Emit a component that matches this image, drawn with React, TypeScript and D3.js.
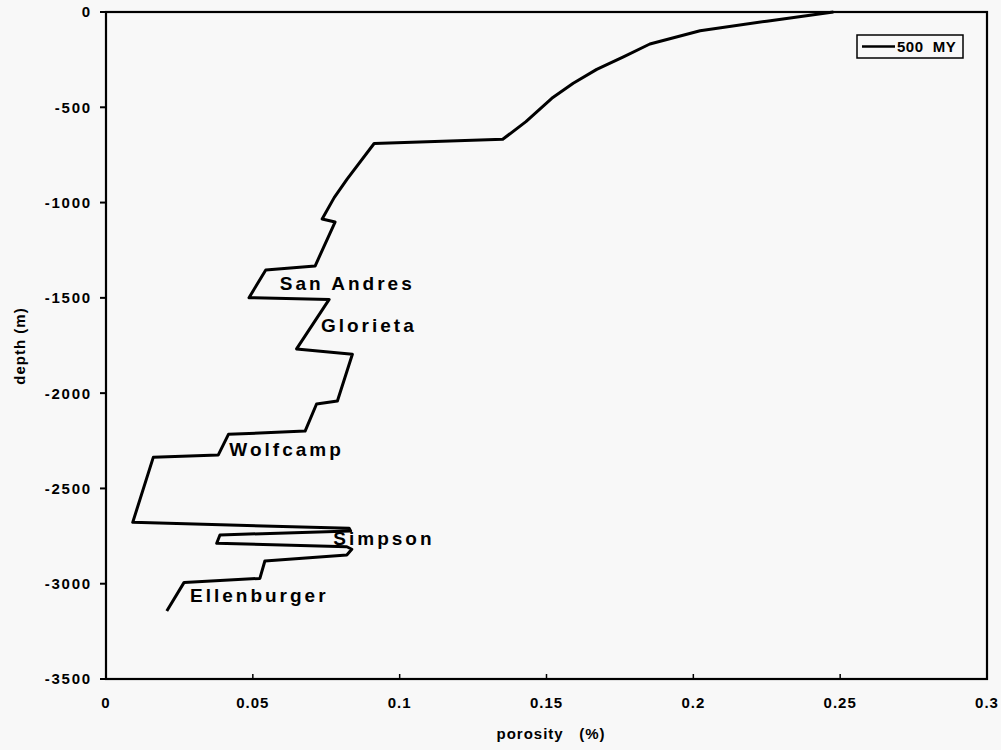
import React from "react";
import * as d3 from "d3";

const porosity = [0.2477, 0.2250, 0.2023, 0.1852, 0.1762, 0.1671, 0.1591, 0.1518, 0.1430, 0.1351, 0.0913, 0.0821, 0.0777, 0.0736, 0.078, 0.0712, 0.0544, 0.0487, 0.076, 0.0649, 0.0839, 0.0788, 0.0717, 0.0678, 0.0417, 0.0382, 0.0161, 0.0091, 0.0828, 0.0833, 0.0388, 0.0377, 0.0820, 0.0837, 0.0820, 0.0541, 0.0524, 0.0266, 0.0207];
const depth = [0, -48, -98, -168, -235, -301, -374, -453, -575, -668, -690, -877, -974, -1086, -1102, -1333, -1354, -1499, -1508, -1768, -1796, -2041, -2057, -2199, -2216, -2325, -2337, -2678, -2709, -2723, -2744, -2788, -2806, -2819, -2849, -2881, -2972, -2993, -3143];

const xTicks = [0, 0.05, 0.1, 0.15, 0.2, 0.25, 0.3];
const yTicks = [0, -500, -1000, -1500, -2000, -2500, -3000, -3500];

const formations = ["San Andres", "Glorieta", "Wolfcamp", "Simpson", "Ellenburger"];
const formationPor = [0.0592, 0.0732, 0.0420, 0.0774, 0.0286];
const formationDepth = [-1459, -1678, -2328, -2797, -3098];

const seriesName = "500 MY";

export default function App() {
  const W = 1001, H = 750;
  const left = 106, right = 987, top = 12, bottom = 679;
  const x = d3.scaleLinear().domain([0, 0.3]).range([left, right]);
  const y = d3.scaleLinear().domain([0, -3500]).range([top, bottom]);
  const pts: [number, number][] = porosity.map((p, i) => [p, depth[i]]);
  const line = d3.line<[number, number]>().x(d => x(d[0])).y(d => y(d[1]));
  const font = "Liberation Sans, Arial, Helvetica, sans-serif";
  return (
    <svg width={W} height={H} style={{ position: "absolute", left: 0, top: 0, background: "#f8f8f8" }} fontFamily={font}>
      <rect x={0} y={0} width={W} height={H} fill="#f8f8f8" />
      <path d={line(pts) || ""} fill="none" stroke="#000" strokeWidth={3} strokeLinejoin="round" />
      <rect x={left} y={top} width={right - left} height={bottom - top} fill="none" stroke="#000" strokeWidth={2.2} />
      {yTicks.map(t => (
        <g key={"y" + t}>
          <line x1={left - 6} x2={left} y1={y(t)} y2={y(t)} stroke="#000" strokeWidth={2} />
          <text x={left - 14} y={y(t)} dy="0.36em" textAnchor="end" fontSize={15} fontWeight="bold" letterSpacing={1.8}>{t}</text>
        </g>
      ))}
      {xTicks.map(t => (
        <g key={"x" + t}>
          <line x1={x(t)} x2={x(t)} y1={bottom} y2={bottom - 5} stroke="#000" strokeWidth={1.5} />
          <text x={x(t)} y={708} textAnchor="middle" fontSize={15} fontWeight="bold" letterSpacing={1}>{String(t)}</text>
        </g>
      ))}
      <text x={551} y={739} textAnchor="middle" fontSize={15} fontWeight="bold" letterSpacing={1} xmlSpace="preserve">{"porosity   (%)"}</text>
      <text transform={`translate(25,346) rotate(-90)`} textAnchor="middle" fontSize={15} fontWeight="bold" letterSpacing={1}>depth (m)</text>
      {formations.map((f, i) => (
        <text key={f} x={x(formationPor[i])} y={y(formationDepth[i])} fontSize={19} fontWeight="bold" letterSpacing={3} xmlSpace="preserve">{f}</text>
      ))}
      <rect x={857} y={35} width={106} height={23} fill="#f8f8f8" stroke="#000" strokeWidth={1.5} />
      <line x1={862} x2={895} y1={46.5} y2={46.5} stroke="#000" strokeWidth={2.5} />
      <text x={897} y={46.5} dy="0.36em" fontSize={15} fontWeight="bold" letterSpacing={0.5} xmlSpace="preserve">{seriesName.replace(" ", "  ")}</text>
    </svg>
  );
}
